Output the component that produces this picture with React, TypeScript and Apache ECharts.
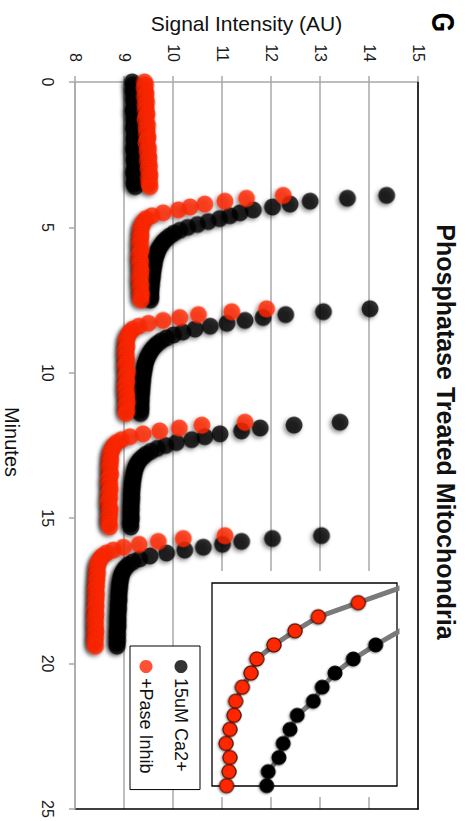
import React, { useEffect, useRef } from "react";
import * as echarts from "echarts";

// ---------- data (minutes vs signal intensity) ----------
const segmentStarts = [0.0, 3.9, 7.8, 11.7, 15.6]; // minute at which each recorded segment starts
const sampleStep = 0.1; // minutes between samples

// 15uM Ca2+ (black)
const caSeg0 = [9.17, 9.19, 9.21, 9.18, 9.2, 9.22, 9.19, 9.21, 9.23, 9.2, 9.18, 9.21, 9.22, 9.2, 9.23, 9.21, 9.19, 9.22, 9.24, 9.21, 9.2, 9.23, 9.22, 9.19, 9.21, 9.24, 9.22, 9.2, 9.23, 9.25, 9.22, 9.19, 9.21, 9.24, 9.22, 9.2, 9.23];
const caSeg1 = [14.36, 13.56, 12.8, 12.39, 12.03, 11.64, 11.37, 11.16, 10.95, 10.72, 10.5, 10.3, 10.14, 10.02, 9.93, 9.86, 9.8, 9.76, 9.72, 9.69, 9.67, 9.65, 9.63, 9.62, 9.61, 9.6, 9.59, 9.58, 9.58, 9.57, 9.56, 9.56, 9.55, 9.55, 9.54, 9.55, 9.54];
const caSeg2 = [14.02, 13.07, 12.3, 11.84, 11.47, 11.1, 10.76, 10.45, 10.2, 10.01, 9.87, 9.76, 9.68, 9.62, 9.57, 9.53, 9.5, 9.47, 9.45, 9.43, 9.42, 9.41, 9.4, 9.39, 9.38, 9.38, 9.37, 9.37, 9.36, 9.36, 9.35, 9.35, 9.35, 9.34, 9.35, 9.34, 9.34];
const caSeg3 = [13.41, 12.47, 11.78, 11.4, 10.96, 10.65, 10.38, 10.07, 9.85, 9.68, 9.55, 9.45, 9.38, 9.32, 9.28, 9.25, 9.23, 9.21, 9.2, 9.19, 9.18, 9.17, 9.17, 9.16, 9.16, 9.15, 9.16, 9.15, 9.15, 9.14, 9.15, 9.14, 9.14, 9.15, 9.14, 9.13, 9.14];
const caSeg4 = [13.03, 12.03, 11.4, 11.01, 10.62, 10.24, 9.87, 9.53, 9.32, 9.18, 9.09, 9.03, 8.99, 8.96, 8.94, 8.93, 8.92, 8.91, 8.91, 8.9, 8.9, 8.89, 8.9, 8.89, 8.88, 8.89, 8.88, 8.88, 8.87, 8.88, 8.87, 8.88, 8.87, 8.86, 8.87, 8.86, 8.87, 8.86, 8.86];

// +Pase Inhib (red)
const paseSeg0 = [9.42, 9.44, 9.41, 9.43, 9.45, 9.42, 9.44, 9.46, 9.43, 9.45, 9.44, 9.47, 9.45, 9.43, 9.46, 9.48, 9.45, 9.47, 9.46, 9.49, 9.47, 9.45, 9.48, 9.5, 9.47, 9.49, 9.51, 9.48, 9.5, 9.52, 9.49, 9.51, 9.53, 9.5, 9.52, 9.51, 9.53];
const paseSeg1 = [12.25, 11.5, 11.06, 10.65, 10.35, 10.11, 9.8, 9.57, 9.45, 9.4, 9.37, 9.35, 9.34, 9.33, 9.35, 9.32, 9.34, 9.31, 9.33, 9.35, 9.32, 9.3, 9.33, 9.34, 9.31, 9.33, 9.35, 9.32, 9.34, 9.31, 9.33, 9.35, 9.32, 9.34, 9.36, 9.33, 9.35];
const paseSeg2 = [11.91, 11.2, 10.52, 10.14, 9.8, 9.5, 9.3, 9.18, 9.12, 9.08, 9.06, 9.05, 9.03, 9.06, 9.04, 9.02, 9.05, 9.03, 9.06, 9.04, 9.02, 9.05, 9.07, 9.04, 9.03, 9.06, 9.04, 9.02, 9.05, 9.03, 9.06, 9.04, 9.07, 9.05, 9.03, 9.06, 9.04];
const paseSeg3 = [11.47, 10.59, 10.13, 9.73, 9.39, 9.12, 8.95, 8.85, 8.79, 8.76, 8.74, 8.72, 8.71, 8.73, 8.7, 8.72, 8.69, 8.71, 8.73, 8.7, 8.68, 8.71, 8.69, 8.72, 8.7, 8.68, 8.71, 8.69, 8.67, 8.7, 8.72, 8.69, 8.71, 8.68, 8.7, 8.69, 8.71];
const paseSeg4 = [11.06, 10.21, 9.7, 9.31, 8.99, 8.78, 8.64, 8.56, 8.51, 8.48, 8.46, 8.45, 8.44, 8.46, 8.43, 8.45, 8.42, 8.44, 8.43, 8.41, 8.44, 8.42, 8.43, 8.41, 8.43, 8.42, 8.4, 8.43, 8.41, 8.42, 8.4, 8.42, 8.41, 8.43, 8.4, 8.42, 8.41, 8.4, 8.42];

// inset (zoomed decay, arbitrary units)
const insetRedStart = -2;
const insetRed = [12.3, 10.05, 7.91, 5.75, 4.49, 3.35, 2.42, 2.11, 1.64, 1.28, 1.19, 0.97, 0.76, 0.97, 0.92, 0.79];
const insetBlackStart = 1;
const insetBlack = [11.8, 10.16, 8.85, 7.64, 6.65, 5.96, 5.48, 4.61, 4.22, 3.85, 3.62, 3.04, 2.96];

const seriesNames = ["15uM Ca2+", "+Pase Inhib"];
const titleText = "Phosphatase Treated Mitochondria";
const xName = "Minutes";
const yName = "Signal Intensity (AU)";
const panelLetter = "G";

// ---------- helpers ----------
function toPoints(segs: number[][]) {
  const pts: number[][] = [];
  segs.forEach((vals, k) => {
    vals.forEach((v, i) => {
      pts.push([+(segmentStarts[k] + i * sampleStep).toFixed(2), v]);
    });
  });
  return pts;
}
function indexed(start: number, vals: number[]) {
  return vals.map((v, i) => [start + i, v]);
}

const FONT = '"Liberation Sans", Arial, sans-serif';
const RED = "#ff2600";
const GRID_GRAY = "#a8a8a8";

export default function App() {
  const ref = useRef<HTMLDivElement>(null);
  useEffect(() => {
    document.documentElement.style.overflow = "hidden";
    document.body.style.overflow = "hidden";
    const chart = echarts.init(ref.current!, null, { renderer: "svg" });
    const shadow = {
      shadowBlur: 4,
      shadowColor: "rgba(0,0,0,0.55)",
      shadowOffsetX: 2,
      shadowOffsetY: 2,
    };
    const option: any = {
      animation: false,
      backgroundColor: "#fff",
      textStyle: { fontFamily: FONT },
      grid: [
        { left: 82, right: 12, top: 48, bottom: 75 },
        { left: 583, top: 69, width: 203, height: 185 },
      ],
      xAxis: [
        {
          type: "value",
          gridIndex: 0,
          min: 0,
          max: 25,
          interval: 5,
          position: "bottom",
          axisLine: { show: true, onZero: false, lineStyle: { color: GRID_GRAY, width: 1.5 } },
          axisTick: { show: true, length: 6, lineStyle: { color: GRID_GRAY, width: 1.5 } },
          axisLabel: { fontSize: 16, color: "#1a1a1a", margin: 20, fontFamily: FONT },
          splitLine: { show: false },
        },
        {
          type: "value",
          gridIndex: 0,
          min: 0,
          max: 25,
          position: "top",
          axisLine: { show: true, onZero: false, lineStyle: { color: "#000", width: 1.5 } },
          axisTick: { show: false },
          axisLabel: { show: false },
          splitLine: { show: false },
        },
        { type: "value", gridIndex: 1, min: -1.4, max: 13.02, show: false, splitLine: { show: false } },
      ],
      yAxis: [
        {
          type: "value",
          gridIndex: 0,
          min: 8,
          max: 15,
          interval: 1,
          position: "left",
          axisLine: { show: true, onZero: false, lineStyle: { color: GRID_GRAY, width: 1.5 } },
          axisTick: { show: true, length: 6, lineStyle: { color: GRID_GRAY, width: 1.5 } },
          axisLabel: { fontSize: 16, color: "#1a1a1a", margin: 20, fontFamily: FONT },
          splitLine: { show: true, lineStyle: { color: GRID_GRAY, width: 1.5 } },
        },
        {
          type: "value",
          gridIndex: 0,
          min: 8,
          max: 15,
          position: "right",
          axisLine: { show: true, onZero: false, lineStyle: { color: "#000", width: 1.5 } },
          axisTick: { show: false },
          axisLabel: { show: false },
          splitLine: { show: false },
        },
        { type: "value", gridIndex: 1, min: 0, max: 10, show: false, splitLine: { show: false } },
      ],
      legend: {
        data: seriesNames,
        orient: "vertical",
        left: 646,
        top: 266,
        itemWidth: 13,
        itemHeight: 13,
        itemGap: 17,
        padding: [10, 16, 7, 14],
        borderColor: "#000",
        borderWidth: 1,
        backgroundColor: "#fff",
        icon: "circle",
        textStyle: { fontSize: 18, color: "#111", fontFamily: FONT },
        z: 20,
      },
      series: [
        {
          name: seriesNames[0],
          type: "scatter",
          xAxisIndex: 0,
          yAxisIndex: 0,
          symbol: "circle",
          symbolSize: 17,
          data: toPoints([caSeg0, caSeg1, caSeg2, caSeg3, caSeg4]),
          itemStyle: { color: "#000", ...shadow },
          z: 2,
        },
        {
          name: seriesNames[1],
          type: "scatter",
          xAxisIndex: 0,
          yAxisIndex: 0,
          symbol: "circle",
          symbolSize: 17,
          data: toPoints([paseSeg0, paseSeg1, paseSeg2, paseSeg3, paseSeg4]),
          itemStyle: { color: RED, ...shadow },
          z: 2,
        },
        {
          name: "inset-ca",
          type: "line",
          xAxisIndex: 2,
          yAxisIndex: 2,
          data: indexed(insetBlackStart, insetBlack),
          symbol: "circle",
          symbolSize: 14,
          showSymbol: true,
          showAllSymbol: true,
          clip: true,
          lineStyle: { color: "#7a7a7a", width: 5 },
          itemStyle: { color: "#000", borderColor: "#000", borderWidth: 1, shadowBlur: 2, shadowColor: "rgba(0,0,0,0.4)", shadowOffsetX: 1, shadowOffsetY: 1 },
          z: 10,
        },
        {
          name: "inset-pase",
          type: "line",
          xAxisIndex: 2,
          yAxisIndex: 2,
          data: indexed(insetRedStart, insetRed),
          symbol: "circle",
          symbolSize: 14,
          showSymbol: true,
          showAllSymbol: true,
          clip: true,
          lineStyle: { color: "#7a7a7a", width: 5 },
          itemStyle: { color: RED, borderColor: "#4a0e00", borderWidth: 1.2, shadowBlur: 2, shadowColor: "rgba(0,0,0,0.4)", shadowOffsetX: 1, shadowOffsetY: 1 },
          z: 10,
        },
      ],
      graphic: [
        {
          type: "rect",
          z: 3,
          silent: true,
          shape: { x: 571, y: 55, width: 226, height: 207 },
          style: { fill: "#fff" },
        },
        {
          type: "rect",
          z: 9,
          silent: true,
          shape: { x: 583, y: 69, width: 203, height: 185 },
          style: { fill: "none", stroke: "#000", lineWidth: 1.3 },
        },
        {
          type: "text",
          z: 20,
          x: 432,
          y: 20,
          style: {
            text: titleText,
            font: `bold 25px ${FONT}`,
            fill: "#111",
            align: "center",
            verticalAlign: "middle",
          },
        },
        {
          type: "text",
          z: 20,
          x: 22.5,
          y: 23,
          scaleX: 0.78,
          style: {
            text: panelLetter,
            font: `bold 32px ${FONT}`,
            fill: "#000",
            align: "center",
            verticalAlign: "middle",
          },
        },
        {
          type: "text",
          z: 20,
          x: 23,
          y: 219.5,
          rotation: Math.PI / 2,
          style: {
            text: yName,
            font: `21px ${FONT}`,
            fill: "#111",
            align: "center",
            verticalAlign: "middle",
          },
        },
        {
          type: "text",
          z: 20,
          x: 442,
          y: 454,
          style: {
            text: xName,
            font: `20px ${FONT}`,
            fill: "#111",
            align: "center",
            verticalAlign: "middle",
          },
        },
      ],
    };
    chart.setOption(option);
    return () => chart.dispose();
  }, []);
  return (
    <div
      ref={ref}
      style={{
        position: "absolute",
        left: 0,
        top: 0,
        width: 821,
        height: 466,
        transformOrigin: "0 0",
        transform: "translate(466px, 0px) rotate(90deg)",
        background: "#fff",
      }}
    />
  );
}
